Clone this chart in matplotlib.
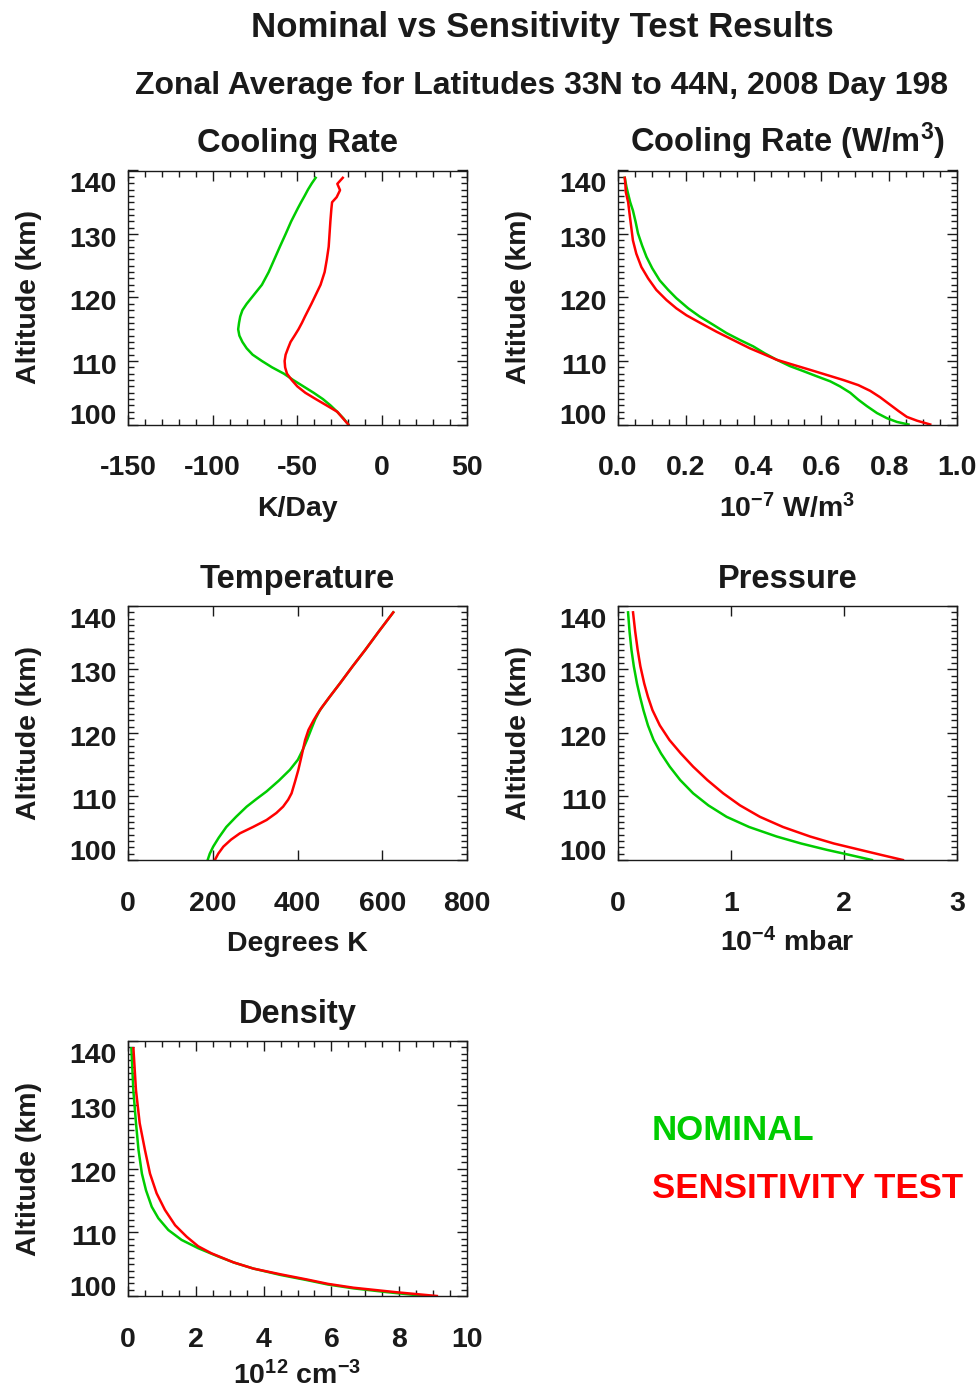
import matplotlib
matplotlib.use('Agg')
import matplotlib.pyplot as plt
from matplotlib.ticker import MultipleLocator
from matplotlib.transforms import ScaledTranslation

plt.rcParams['font.family'] = ['Liberation Sans', 'DejaVu Sans']
plt.rcParams['font.weight'] = 'bold'
plt.rcParams['axes.unicode_minus'] = False
plt.rcParams['mathtext.fontset'] = 'custom'
plt.rcParams['mathtext.rm'] = 'Liberation Sans:bold'
plt.rcParams['mathtext.it'] = 'Liberation Sans:bold'
plt.rcParams['mathtext.bf'] = 'Liberation Sans:bold'

GREEN = '#00cc00'
RED = '#ff0000'
TXT = '#1a1a1a'
LW = 1.8

# ---- data (altitude in km) ----
# Cooling rate, K/Day
cool_nom_alt = [100, 101, 102, 103, 104, 105, 106, 107, 108, 109, 110, 111, 112, 113, 114, 115,
                116, 117, 118, 119, 120, 122, 124, 126, 128, 130, 132, 134, 135, 136, 137, 138, 138.85]
cool_nom = [-20.0, -23.0, -26.6, -30.5, -35.0, -40.5, -46.5, -52.5, -58.0, -65.0, -71.0, -76.5,
            -80.0, -82.5, -84.3, -85.0, -84.5, -83.8, -82.5, -80.0, -77.0, -71.0, -67.0, -63.7,
            -60.4, -57.0, -53.7, -49.9, -47.9, -45.8, -43.8, -41.5, -39.3]
cool_sen_alt = [100, 101, 102, 103, 104, 105, 106, 107, 108, 109, 110, 111, 112, 113, 114, 115,
                116, 117, 118, 119, 120, 122, 124, 126, 128, 130, 132, 134, 135, 135.8, 136.9,
                137.9, 138.85]
cool_sen = [-20.0, -23.3, -26.5, -32.8, -39.2, -45.4, -50.1, -53.4, -56.2, -57.3, -57.6, -57.0,
            -55.6, -54.1, -51.7, -49.4, -47.4, -45.6, -43.7, -41.8, -40.0, -36.4, -34.0, -32.7,
            -31.6, -31.1, -30.6, -30.0, -29.6, -26.9, -24.9, -26.5, -23.3]

# Cooling rate, 10^-7 W/m^3
wm3_nom_alt = [100, 100.4, 101.0, 101.8, 102.9, 103.9, 105.0, 106.0, 106.8, 107.6, 108.4, 109.2,
               110.2, 111.2, 112.3, 113.3, 114.4, 115.7, 117.0, 118.3, 119.9, 121.2, 122.7,
               124.6, 126.4, 128.2, 130.1, 131.9, 133.7, 135.0, 136.3, 137.4, 138.85]
wm3_nom = [0.857, 0.823, 0.793, 0.764, 0.734, 0.709, 0.685, 0.655, 0.626, 0.586, 0.547, 0.507,
           0.468, 0.433, 0.399, 0.360, 0.320, 0.281, 0.241, 0.207, 0.172, 0.148, 0.123, 0.101,
           0.084, 0.071, 0.059, 0.052, 0.044, 0.036, 0.030, 0.025, 0.020]
wm3_sen_alt = [100, 100.6, 101.2, 102.1, 103.1, 104.3, 105.3, 106.2, 107.0, 107.8, 108.6, 109.4,
               110.2, 111.1, 112.0, 113.3, 114.6, 115.9, 117.2, 118.3, 119.6, 121.2, 123.0,
               124.8, 126.9, 129.0, 131.1, 133.2, 135.0, 136.6, 137.6, 138.85]
wm3_sen = [0.921, 0.882, 0.852, 0.828, 0.803, 0.773, 0.744, 0.709, 0.665, 0.616, 0.567, 0.517,
           0.468, 0.429, 0.389, 0.340, 0.291, 0.246, 0.202, 0.172, 0.143, 0.113, 0.089, 0.069,
           0.054, 0.044, 0.039, 0.034, 0.030, 0.023, 0.022, 0.020]

# Temperature, K
temp_nom_alt = [100, 101, 102.1, 103.5, 105.2, 106.8, 108.4, 109.6, 110.8, 112.5, 114.2, 115.8,
                117.3, 119.0, 120.7, 122.2, 123.6, 125.7, 127.8, 130.5, 133.1, 136.0, 139.0]
temp_nom = [188, 193, 201, 214, 232, 255, 280, 303, 327, 356, 382, 401, 412, 423, 433, 442, 453,
            476, 500, 530, 560, 592, 626]
temp_sen_alt = [100, 101, 102.1, 103.2, 104.2, 105.2, 106.3, 107.4, 108.4, 109.5, 110.5, 112.3,
                114.2, 116.5, 118.9, 120.5, 122.0, 123.0, 124.1, 125.7, 127.8, 130.5, 133.1,
                136.0, 139.0]
temp_sen = [205, 213, 225, 243, 264, 295, 327, 350, 366, 378, 386, 394, 402, 410, 418, 426, 438,
            447, 458, 476, 500, 530, 560, 592, 626]

# Pressure, 10^-4 mbar
pres_alt = [100, 100.8, 101.6, 102.6, 103.7, 105.2, 106.8, 108.6, 110.5, 112.6, 114.7, 116.8,
            118.9, 121.2, 123.6, 125.7, 127.8, 130.5, 133.1, 136.0, 139.0]
pres_nom = [2.247, 2.05, 1.848, 1.62, 1.404, 1.16, 0.961, 0.80, 0.665, 0.55, 0.458, 0.38, 0.315,
            0.265, 0.225, 0.195, 0.168, 0.140, 0.119, 0.102, 0.089]
pres_sen = [2.521, 2.33, 2.143, 1.91, 1.700, 1.46, 1.256, 1.08, 0.931, 0.79, 0.665, 0.555, 0.455,
            0.37, 0.305, 0.265, 0.232, 0.198, 0.174, 0.152, 0.133]

# Density, 10^12 cm^-3
dens_nom_alt = [100, 100.6, 101.2, 101.8, 102.5, 103.3, 104.3, 105.2, 106.2, 107.5, 108.8,
                110.35, 112.2, 114.0, 116.6, 119.2, 122.9, 127.1, 132.3, 138.85]
dens_nom = [8.77, 7.65, 6.65, 5.9, 5.27, 4.5, 3.70, 3.15, 2.66, 2.07, 1.58, 1.19, 0.895, 0.70,
            0.53, 0.41, 0.31, 0.236, 0.157, 0.10]
dens_sen_alt = [100, 100.6, 101.3, 101.9, 102.6, 103.4, 104.3, 105.3, 106.7, 107.8, 109.3, 111.1,
                113.5, 116.1, 119.2, 122.9, 127.1, 132.3, 138.85]
dens_sen = [9.11, 7.9, 6.65, 5.9, 5.27, 4.5, 3.70, 3.10, 2.46, 2.07, 1.73, 1.39, 1.09, 0.845,
            0.649, 0.50, 0.345, 0.235, 0.16]

W, H = 979, 1391
fig = plt.figure(figsize=(W / 100, H / 100), dpi=100)


def make_ax(x0, y0, x1, y1):
    return fig.add_axes([x0 / W, 1 - y1 / H, (x1 - x0) / W, (y1 - y0) / H])


def shift(lab, dy_px):
    lab.set_transform(lab.get_transform() + ScaledTranslation(0, -dy_px / 100, fig.dpi_scale_trans))


def style(ax, title, xlabel, xlim, xmaj, xmin, xfmt, xlab_y=-0.28):
    ax.set_ylim(100, 140)
    ax.set_xlim(*xlim)
    ax.yaxis.set_minor_locator(MultipleLocator(1))
    if xmin:
        ax.xaxis.set_minor_locator(MultipleLocator(xmin))
    else:
        ax.xaxis.set_minor_locator(plt.NullLocator())
    ticks = [xlim[0] + i * xmaj for i in range(int(round((xlim[1] - xlim[0]) / xmaj)) + 1)]
    ax.set_xticks(ticks)
    ax.set_xticklabels([xfmt.format(t) for t in ticks])
    ax.set_yticks([100, 110, 120, 130, 140])
    ax.set_yticklabels(['100', '110', '120', '130', '140'])
    ax.tick_params(which='both', direction='in', top=True, right=True, colors=TXT,
                   labelsize=20.5, width=1)
    ax.tick_params(which='major', length=7)
    ax.tick_params(which='minor', length=4)
    ax.tick_params(axis='x', pad=22)
    ax.tick_params(axis='y', pad=8)
    labs = ax.get_yticklabels()
    labs[0].set_va('baseline')
    labs[-1].set_va('top')
    shift(labs[-1], 2)
    for lab in labs[1:-1]:
        shift(lab, 3)
    for s in ax.spines.values():
        s.set_color(TXT)
        s.set_linewidth(1)
    ax.set_title(title, fontsize=23.5, fontweight='bold', color=TXT, pad=13)
    ax.set_xlabel(xlabel, fontsize=20.5, fontweight='bold', color=TXT)
    ax.xaxis.set_label_coords(0.5, xlab_y)
    ax.set_ylabel('Altitude (km)', fontsize=20.5, fontweight='bold', color=TXT)
    ax.yaxis.set_label_coords(-0.255, 0.5)


ax1 = make_ax(128, 170.5, 467, 424.5)
ax1.plot(cool_nom, cool_nom_alt, color=GREEN, lw=LW)
ax1.plot(cool_sen, cool_sen_alt, color=RED, lw=LW)
style(ax1, 'Cooling Rate', 'K/Day', (-150, 50), 50, 10, '{:.0f}')

ax2 = make_ax(618, 170.5, 957, 424.5)
ax2.plot(wm3_nom, wm3_nom_alt, color=GREEN, lw=LW)
ax2.plot(wm3_sen, wm3_sen_alt, color=RED, lw=LW)
style(ax2, 'Cooling Rate (W/m$^3$)', '10$^{-7}$ W/m$^3$', (0.0, 1.0), 0.2, 0.05, '{:.1f}',
      xlab_y=-0.27)

ax3 = make_ax(128, 606, 467, 860)
ax3.plot(temp_nom, temp_nom_alt, color=GREEN, lw=LW)
ax3.plot(temp_sen, temp_sen_alt, color=RED, lw=LW)
style(ax3, 'Temperature', 'Degrees K', (0, 800), 200, None, '{:.0f}')

ax4 = make_ax(618, 606, 957, 860)
ax4.plot(pres_nom, pres_alt, color=GREEN, lw=LW)
ax4.plot(pres_sen, pres_alt, color=RED, lw=LW)
style(ax4, 'Pressure', '10$^{-4}$ mbar', (0, 3), 1, None, '{:.0f}', xlab_y=-0.27)

ax5 = make_ax(128, 1041, 467, 1296)
ax5.plot(dens_nom, dens_nom_alt, color=GREEN, lw=LW)
ax5.plot(dens_sen, dens_sen_alt, color=RED, lw=LW)
style(ax5, 'Density', '10$^{12}$ cm$^{-3}$', (0, 10), 2, 0.5, '{:.0f}', xlab_y=-0.255)

fig.text(542 / W, 1 - 27 / H, 'Nominal vs Sensitivity Test Results', ha='center', va='center',
         fontsize=25, fontweight='bold', color=TXT)
fig.text(542 / W, 1 - 86 / H, 'Zonal Average for Latitudes 33N to 44N, 2008 Day 198',
         ha='center', va='center', fontsize=23, fontweight='bold', color=TXT)

fig.text(652 / W, 1 - 1130 / H, 'NOMINAL', ha='left', va='center', fontsize=25,
         fontweight='bold', color=GREEN)
fig.text(652 / W, 1 - 1188 / H, 'SENSITIVITY TEST', ha='left', va='center', fontsize=25,
         fontweight='bold', color=RED)

fig.savefig('out.png', dpi=100)
